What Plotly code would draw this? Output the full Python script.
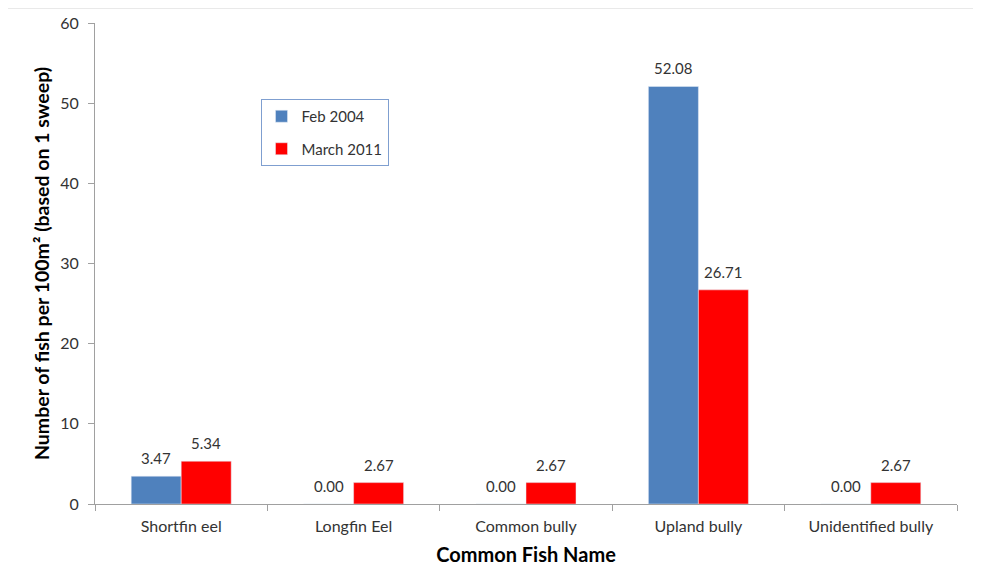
import plotly.graph_objects as go

fish_names = ["Shortfin eel", "Longfin Eel", "Common bully", "Upland bully", "Unidentified bully"]
feb_2004 = [3.47, 0.00, 0.00, 52.08, 0.00]
march_2011 = [5.34, 2.67, 2.67, 26.71, 2.67]
y_ticks = [0, 10, 20, 30, 40, 50, 60]

FONT = "Lato, Calibri, Carlito, sans-serif"
TEXT = "#333333"
BAR_OFFSET = 25  # half a bar width in px, to put each label over its own bar

fig = go.Figure()
fig.add_trace(go.Bar(
    x=fish_names, y=feb_2004, name="Feb 2004", legendgroup="feb",
    marker=dict(color="#4f81bd"),
))
fig.add_trace(go.Bar(
    x=fish_names, y=march_2011, name="March 2011", legendgroup="mar",
    marker=dict(color="#ff0000"),
))

# value labels sit a little higher above the bars than plotly's own outside text
for vals, shift in [(feb_2004, -BAR_OFFSET), (march_2011, BAR_OFFSET)]:
    for name, v in zip(fish_names, vals):
        fig.add_annotation(
            x=name, y=v, text=f"{v:.2f}", showarrow=False,
            xshift=shift, yshift=18,
            font=dict(size=15, color=TEXT, family=FONT),
        )

# page body has an 8px margin, so the figure is drawn 8px smaller
fig.update_layout(
    width=973, height=558,
    margin=dict(l=87, r=24, t=15, b=62),
    paper_bgcolor="white", plot_bgcolor="white",
    font=dict(family=FONT, color=TEXT, size=15),
    barmode="group", bargap=0.42, bargroupgap=0,
    showlegend=True,
    legend=dict(
        x=0.192, y=0.842, xanchor="left", yanchor="top",
        bordercolor="#7f9fd0", borderwidth=1, bgcolor="white",
        font=dict(size=15, color=TEXT, family=FONT),
        itemwidth=30, tracegroupgap=10,
    ),
)

fig.update_xaxes(
    automargin=False,
    showline=True, linecolor="#a0a0a0", linewidth=1,
    ticks="outside", tickson="boundaries", ticklen=6, tickcolor="#a0a0a0",
    tickfont=dict(size=16, color=TEXT, family=FONT), ticklabelstandoff=8,
    title=dict(text="<b>Common Fish Name</b>", font=dict(size=20, color="#000000", family=FONT), standoff=18),
    showgrid=False,
)
fig.update_yaxes(
    automargin=False,
    range=[0, 60], tickvals=y_ticks,
    showline=True, linecolor="#a0a0a0", linewidth=1,
    ticks="outside", ticklen=6, tickcolor="#a0a0a0",
    tickfont=dict(size=16, color=TEXT, family=FONT), ticklabelstandoff=6,
    title=dict(text="<b>Number of fish per 100m² (based on 1 sweep)</b>",
               font=dict(size=19.5, color="#000000", family=FONT), standoff=5),
    showgrid=False, zeroline=False,
)

# light outer chart border (top and left edges visible in the original)
fig.add_shape(type="line", xref="paper", yref="paper", x0=-0.1055, x1=1.03, y0=1.031, y1=1.031,
              line=dict(color="#d9d9d9", width=1))
fig.add_shape(type="line", xref="paper", yref="paper", x0=-0.1055, x1=-0.1055, y0=1.031, y1=-0.14,
              line=dict(color="#d9d9d9", width=1))

fig.write_html("out.html")
